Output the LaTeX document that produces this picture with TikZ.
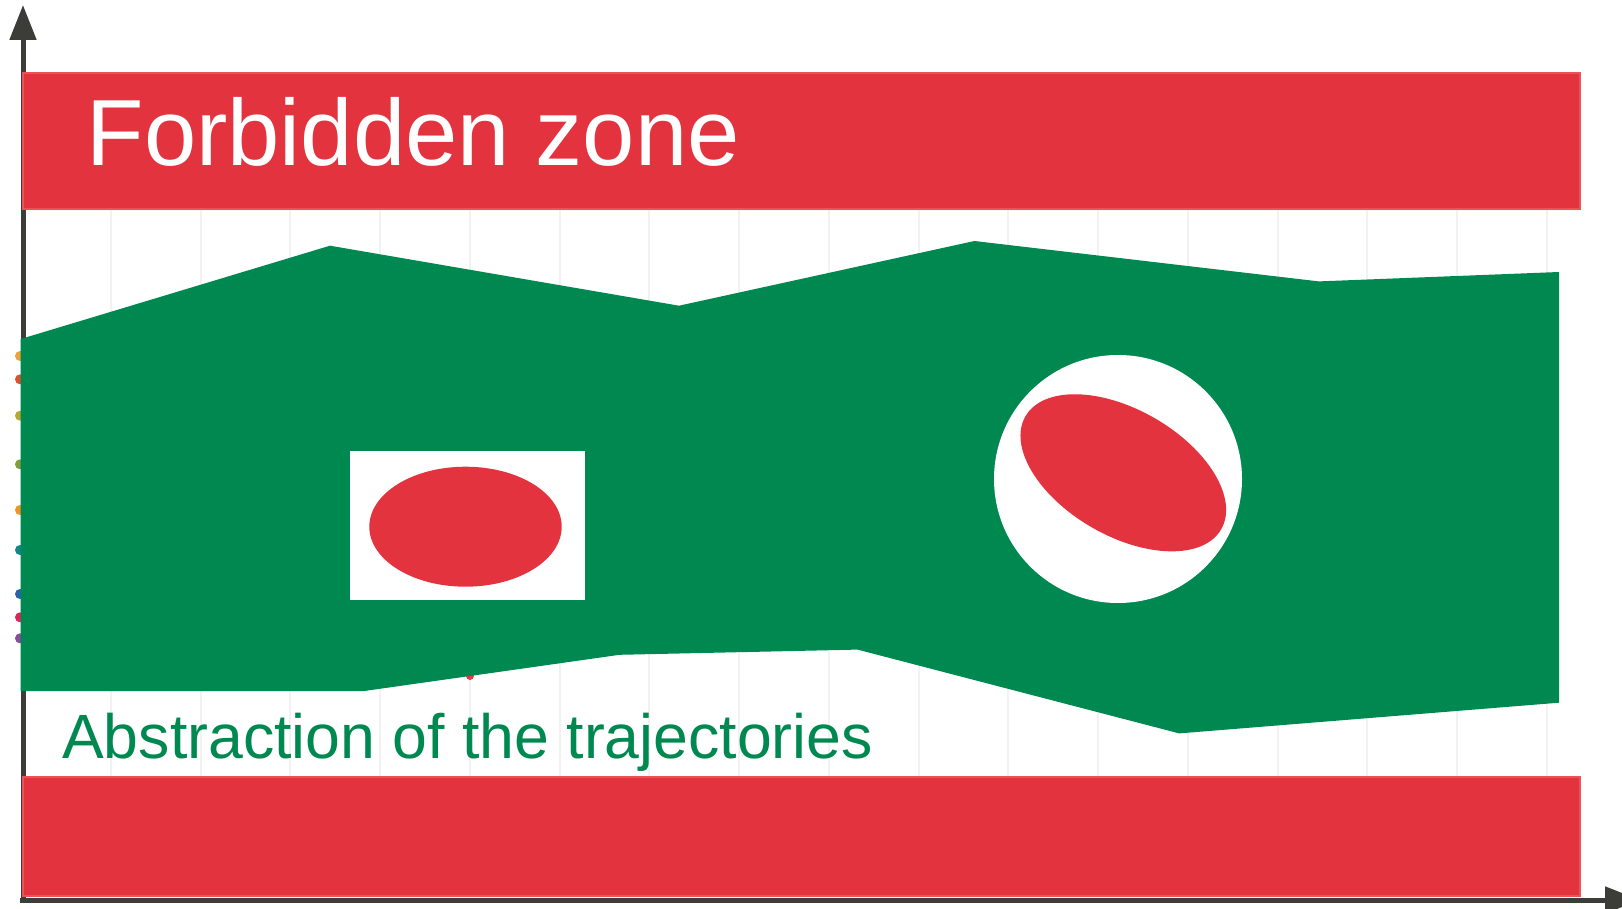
\documentclass[tikz,border=0pt]{standalone}
\usepackage{fontspec}
\setmainfont{Liberation Sans}
\usetikzlibrary{arrows.meta}
\definecolor{zonered}{RGB}{227,51,63}
\definecolor{zoneedge}{RGB}{236,82,86}
\definecolor{trajgreen}{RGB}{0,136,81}
\definecolor{axisgray}{RGB}{60,60,56}
\definecolor{gridgray}{RGB}{242,242,242}
\definecolor{d1}{RGB}{232,163,58}
\definecolor{d2}{RGB}{217,84,46}
\definecolor{d3}{RGB}{184,167,50}
\definecolor{d4}{RGB}{127,158,60}
\definecolor{d5}{RGB}{242,147,37}
\definecolor{d6}{RGB}{17,134,143}
\definecolor{d7}{RGB}{42,99,170}
\definecolor{d8}{RGB}{226,34,91}
\definecolor{d9}{RGB}{139,76,155}
\definecolor{d10}{RGB}{228,58,74}
\tikzset{
  zone/.style={fill=zonered, draw=zoneedge, line width=2.5pt},
  axisline/.style={draw=axisgray, line width=5pt, -{Triangle[length=35pt,width=26pt]}},
  gridline/.style={draw=gridgray, line width=2pt},
  traj/.style={fill=trajgreen},
  hole/.style={fill=white},
  obstacle/.style={fill=zonered},
  dotmark/.style={circle, inner sep=0pt, minimum size=10pt},
}
\begin{document}
\begin{tikzpicture}[x=1pt,y=-1pt]
\useasboundingbox (0,0) rectangle (1622,909);
% grid
\foreach \k in {0,...,16} {
  \draw[gridline] ({110.75+89.75*\k},209) -- ({110.75+89.75*\k},777);
}
% axes
\coordinate (o) at (23,900);
\coordinate (ytip) at (23,5);
\coordinate (xstart) at (20,900);
\coordinate (xtip) at (1640,900);
\draw[axisline] (o) -- (ytip);
\draw[axisline] (xstart) -- (xtip);
% trajectory dots
\foreach \yy/\cc [count=\i] in {356/d1,379.3/d2,415.7/d3,464.3/d4,510/d5,550/d6,594/d7,617.3/d8,638.3/d9} {
  \node[dotmark, fill=\cc] (dot\i) at (20,\yy) {};
}
\node[dotmark, fill=d10, minimum size=8pt] (dot10) at (470,676) {};
% trajectory abstraction
\path[traj] (20.7,339) -- (330,245.7) -- (679,305.7) -- (974.4,241) -- (1318.9,281.4) -- (1559,272)
  -- (1559,702.7) -- (1179.2,733.4) -- (857.5,649.6) -- (619.6,654.8) -- (364.3,691) -- (20.7,691) -- cycle;
% obstacles
\path[hole] (350,451.3) rectangle (585,600);
\path[obstacle] (465.5,526.7) ellipse [x radius=96.2, y radius=60];
\path[hole] (1118,479) circle [radius=124];
\path[obstacle] (1123.3,472.8) ellipse [x radius=113, y radius=63, rotate=-30];
% forbidden zones
\path[zone] (23,73) rectangle (1580,209);
\path[zone] (23,777) rectangle (1580,896);
% texts
\node[anchor=base west, inner sep=0pt, text=white, font=\fontsize{94}{112}\selectfont] (fz) at (86.5,165.5) {Forbidden zone};
\node[anchor=base west, inner sep=0pt, text=trajgreen, font=\fontsize{62.6}{75}\selectfont] (abs) at (62,758) {Abstraction of the trajectories};
\end{tikzpicture}
\end{document}
